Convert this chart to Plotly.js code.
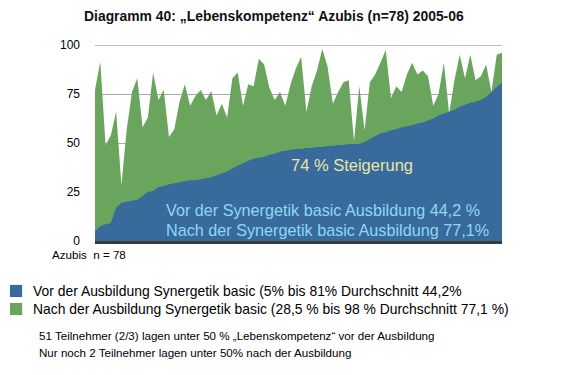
<!DOCTYPE html>
<html>
<head>
<meta charset="utf-8">
<script src="https://cdn.plot.ly/plotly-3.0.1.min.js"></script>
<style>html,body{margin:0;padding:0;background:#fff;}#chart{width:567px;height:375px;}</style>
</head>
<body>
<div id="chart"></div>
<script>
// Participants 1..78
const participants = Array.from({length: 78}, (_, i) => i + 1);

// "Lebenskompetenz" before training (sorted ascending)
const vorWerte = [5, 7.5, 8.5, 9, 17, 19.5, 20, 20.5, 21, 23,
  25, 25.5, 27.5, 28, 29, 29.5, 30, 30.5, 31, 31,
  31.5, 32, 32.5, 33.5, 34.5, 35.5, 37, 38.5, 39.5, 41,
  42, 42.5, 43, 44, 44.5, 45.5, 46, 46.5, 47, 47,
  47.5, 47.5, 48, 48, 48.5, 48.5, 49, 49, 49.5, 49.5,
  49.5, 50.5, 52, 53.5, 55, 55.5, 56.5, 57, 58, 58.5,
  59, 60, 60.5, 61.5, 62.5, 64, 65, 66, 67, 68.5,
  69.5, 70.5, 71, 72, 73.5, 76, 78.5, 81];

// "Lebenskompetenz" after training
const nachWerte = [77, 91.5, 49, 54, 66, 28.5, 57, 76, 83, 58,
  63, 86, 72, 77, 53, 57, 71, 80, 69, 74,
  77, 72, 76.5, 64, 70, 63, 83, 86, 69, 80,
  79, 93, 90, 78, 72, 76, 69, 80, 88, 94,
  66, 79, 87, 98, 89, 70, 76, 81, 82, 51,
  79, 56.6, 81, 85, 91, 97.4, 73, 79, 76, 85,
  91, 85, 87, 84, 69, 75, 91, 65, 82, 95,
  83, 95, 82, 84, 90, 76, 95, 96];

const yTicks = [0, 25, 50, 75, 100];

const titleText = 'Diagramm 40: \u201eLebenskompetenz\u201c Azubis (n=78) 2005-06';
const legendVor = 'Vor der Ausbildung Synergetik basic (5% bis 81% Durchschnitt 44,2%';
const legendNach = 'Nach der Ausbildung Synergetik basic (28,5 % bis 98 % Durchschnitt 77,1 %)';
const note1 = '51 Teilnehmer (2/3) lagen unter 50 % \u201eLebenskompetenz\u201c vor der Ausbildung';
const note2 = 'Nur noch 2 Teilnehmer lagen unter 50% nach der Ausbildung';
const innerSteig = '74 % Steigerung';
const innerVor = 'Vor der Synergetik basic Ausbildung 44,2 %';
const innerNach = 'Nach der Synergetik basic Ausbildung 77,1%';

const blue = '#386a9c';
const green = '#6aa55e';
const FONT = 'Liberation Sans, Arial, Helvetica, sans-serif';

const traces = [
  {x: participants, y: nachWerte, type: 'scatter', mode: 'lines', fill: 'tozeroy',
   fillcolor: green, line: {width: 0, color: green}, name: 'Nach', hoverinfo: 'skip'},
  {x: participants, y: vorWerte, type: 'scatter', mode: 'lines', fill: 'tozeroy',
   fillcolor: blue, line: {width: 0, color: blue}, name: 'Vor', hoverinfo: 'skip'}
];

const layout = {
  width: 567, height: 375,
  margin: {l: 95, r: 65, t: 45, b: 134},
  paper_bgcolor: '#ffffff', plot_bgcolor: '#ffffff',
  showlegend: false,
  font: {family: FONT, size: 11, color: '#000'},
  title: {text: '<b>' + titleText + '</b>', xref: 'container', x: 0.483, xanchor: 'center',
          yref: 'container', y: 0.957, yanchor: 'middle',
          font: {family: FONT, size: 13.9, color: '#111'}},
  xaxis: {range: [1, 78], showticklabels: false, showgrid: false, zeroline: false,
          showline: true, linecolor: '#3a3a3a', linewidth: 3, ticks: ''},
  yaxis: {range: [0, 100], tickvals: yTicks, ticktext: yTicks.map(String),
          showgrid: true, gridcolor: '#a8a8a8', gridwidth: 1, zeroline: false,
          showline: false, ticks: '', ticklabelstandoff: 14,
          tickfont: {family: FONT, size: 12, color: '#000'}},
  shapes: [
    {type: 'line', xref: 'paper', yref: 'y', x0: 0, x1: 1, y0: 100, y1: 100,
     line: {color: '#a8a8a8', width: 1.5}},
    {type: 'rect', xref: 'paper', yref: 'paper', x0: -0.209, x1: -0.179, y0: -0.224, y1: -0.286,
     fillcolor: blue, line: {width: 0}},
    {type: 'rect', xref: 'paper', yref: 'paper', x0: -0.209, x1: -0.179, y0: -0.316, y1: -0.378,
     fillcolor: green, line: {width: 0}}
  ],
  annotations: [
    {xref: 'paper', yref: 'paper', x: -0.111, y: -0.071, xanchor: 'left', yanchor: 'middle',
     text: 'Azubis  n = 78', showarrow: false, font: {family: FONT, size: 11.6, color: '#000'}},
    {xref: 'paper', yref: 'paper', x: -0.157, y: -0.255, xanchor: 'left', yanchor: 'middle',
     text: legendVor, showarrow: false, font: {family: FONT, size: 13.9, color: '#000'}},
    {xref: 'paper', yref: 'paper', x: -0.157, y: -0.347, xanchor: 'left', yanchor: 'middle',
     text: legendNach, showarrow: false, font: {family: FONT, size: 13.9, color: '#000'}},
    {xref: 'paper', yref: 'paper', x: -0.142, y: -0.48, xanchor: 'left', yanchor: 'middle',
     text: note1, showarrow: false, font: {family: FONT, size: 11.6, color: '#000'}},
    {xref: 'paper', yref: 'paper', x: -0.142, y: -0.571, xanchor: 'left', yanchor: 'middle',
     text: note2, showarrow: false, font: {family: FONT, size: 11.6, color: '#000'}},
    {xref: 'paper', yref: 'paper', x: 0.477, y: 0.39, xanchor: 'left', yanchor: 'middle',
     text: innerSteig, showarrow: false, font: {family: FONT, size: 16.5, color: '#e9e6a6'}},
    {xref: 'paper', yref: 'paper', x: 0.17, y: 0.16, xanchor: 'left', yanchor: 'middle',
     text: innerVor, showarrow: false, font: {family: FONT, size: 16.2, color: '#8fd8f4'}},
    {xref: 'paper', yref: 'paper', x: 0.17, y: 0.055, xanchor: 'left', yanchor: 'middle',
     text: innerNach, showarrow: false, font: {family: FONT, size: 16.2, color: '#8fd8f4'}}
  ]
};

Plotly.newPlot('chart', traces, layout, {displayModeBar: false, staticPlot: true});
</script>
</body>
</html>
